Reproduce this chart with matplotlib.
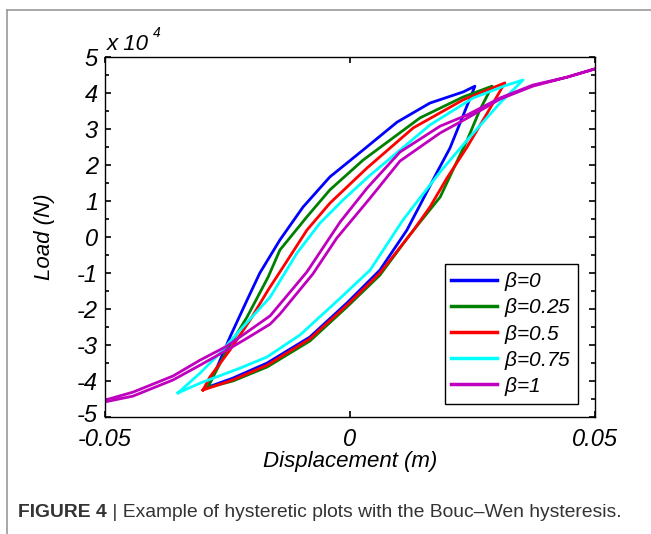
import matplotlib
matplotlib.use('Agg')
import matplotlib.pyplot as plt
from matplotlib.lines import Line2D
from matplotlib.ticker import MultipleLocator
from matplotlib.transforms import ScaledTranslation

# Displacement (m) and load (x 10^4 N).
# Each loop: upper branch left->right, then lower branch right->left.
disp_b0 = [-0.0290, -0.0271, -0.0245, -0.0210, -0.0184, -0.0143, -0.0096, -0.0041, 0.0027, 0.0096, 0.0163, 0.0231, 0.0255,
           0.0204, 0.0180, 0.0143, 0.0116, 0.0061, -0.0006, -0.0082, -0.0169, -0.0239, -0.0290]
load_b0 = [-4.17, -3.61, -2.78, -1.75, -1.00, -0.08, 0.83, 1.67, 2.42, 3.19, 3.72, 4.03, 4.19,
           2.47, 1.86, 0.89, 0.19, -0.92, -1.83, -2.78, -3.50, -3.92, -4.17]

disp_b025 = [-0.0292, -0.0286, -0.0251, -0.0210, -0.0167, -0.0143, -0.0088, -0.0041, 0.0027, 0.0143, 0.0231, 0.0290,
             0.0265, 0.0239, 0.0210, 0.0184, 0.0122, 0.0061, -0.0006, -0.0082, -0.0169, -0.0239, -0.0292]
load_b025 = [-4.19, -4.06, -3.14, -2.22, -1.11, -0.36, 0.56, 1.31, 2.14, 3.31, 3.89, 4.19,
             3.53, 2.69, 1.86, 1.11, 0.06, -1.06, -1.94, -2.89, -3.61, -4.00, -4.19]

disp_b05 = [-0.0300, -0.0286, -0.0245, -0.0204, -0.0167, -0.0143, -0.0088, -0.0041, 0.0035, 0.0129, 0.0231, 0.0316,
            0.0280, 0.0239, 0.0198, 0.0163, 0.0127, 0.0061, -0.0006, -0.0082, -0.0169, -0.0239, -0.0300]
load_b05 = [-4.25, -3.89, -3.14, -2.31, -1.47, -0.97, 0.19, 0.94, 1.92, 3.03, 3.81, 4.28,
            3.44, 2.50, 1.64, 0.83, 0.14, -1.00, -1.89, -2.83, -3.56, -3.97, -4.25]

disp_b075 = [-0.0351, -0.0306, -0.0265, -0.0224, -0.0163, -0.0108, -0.0061, -0.0014, 0.0037, 0.0163, 0.0251, 0.0320, 0.0353,
             0.0306, 0.0239, 0.0184, 0.0108, 0.0041, -0.0024, -0.0102, -0.0169, -0.0224, -0.0306, -0.0351]
load_b075 = [-4.33, -3.78, -3.22, -2.58, -1.67, -0.44, 0.39, 1.03, 1.67, 3.11, 3.86, 4.22, 4.36,
             3.72, 2.69, 1.81, 0.47, -0.92, -1.75, -2.72, -3.33, -3.64, -4.06, -4.33]

disp_b1 = [-0.0500, -0.0443, -0.0361, -0.0306, -0.0251, -0.0210, -0.0163, -0.0088, -0.0020, 0.0035, 0.0102, 0.0184,
           0.0239, 0.0306, 0.0373, 0.0443, 0.0500,
           0.0443, 0.0373, 0.0306, 0.0239, 0.0184, 0.0102, 0.0041, -0.0027, -0.0076, -0.0143, -0.0163, -0.0210,
           -0.0251, -0.0306, -0.0361, -0.0443, -0.0500]
load_b1 = [-4.53, -4.31, -3.86, -3.42, -3.03, -2.64, -2.19, -0.97, 0.42, 1.36, 2.36, 3.08,
           3.39, 3.86, 4.22, 4.44, 4.67,
           4.44, 4.19, 3.83, 3.30, 2.89, 2.11, 1.08, -0.03, -1.03, -2.14, -2.42, -2.81,
           -3.14, -3.56, -3.97, -4.42, -4.58]

labels = [r'$\beta$=0', r'$\beta$=0.25', r'$\beta$=0.5', r'$\beta$=0.75', r'$\beta$=1']
colors = ['#0000ff', '#008000', '#ff0000', '#00ffff', '#bf00bf']
xticks = [-0.05, 0, 0.05]
xticklabels = ['-0.05', '0', '0.05']
yticks = [-5, -4, -3, -2, -1, 0, 1, 2, 3, 4, 5]

plt.rcParams['font.family'] = ['Liberation Sans', 'DejaVu Sans']
plt.rcParams['mathtext.fontset'] = 'custom'
plt.rcParams['mathtext.it'] = 'Liberation Sans:italic'
plt.rcParams['mathtext.rm'] = 'Liberation Sans:italic'

fig = plt.figure(figsize=(6.51, 5.34), dpi=100)
ax = fig.add_axes([105/651, 117/534, 490/651, 360/534])

series = [(disp_b0, load_b0), (disp_b025, load_b025), (disp_b05, load_b05),
          (disp_b075, load_b075), (disp_b1, load_b1)]
for (d, f), c, lab in zip(series, colors, labels):
    ax.plot(d, f, color=c, lw=2.0, label=lab, solid_joinstyle='round')

ax.set_xlim(-0.05, 0.05)
ax.set_ylim(-5, 5)
ax.set_xticks(xticks)
ax.set_xticklabels(xticklabels, fontsize=17, style='italic')
ax.set_yticks(yticks)
ax.set_yticklabels([str(v) for v in yticks], fontsize=17, style='italic')
ax.yaxis.set_minor_locator(MultipleLocator(0.5))
ax.tick_params(which='both', direction='in', top=True, right=True, width=1.2, colors='black')
ax.tick_params(which='major', length=4)
ax.tick_params(axis='y', which='major', pad=5)
ax.tick_params(axis='x', which='major', pad=8)
ax.tick_params(which='minor', length=3)
for s in ax.spines.values():
    s.set_linewidth(1.0)

# the bottom y label sits a little high in the original, clear of -0.05
lbl = ax.get_yticklabels()[0]
lbl.set_transform(lbl.get_transform() + ScaledTranslation(0, 3/72, fig.dpi_scale_trans))

ax.set_xlabel('Displacement (m)', fontsize=16, style='italic', labelpad=0)
ax.set_ylabel('Load (N)', fontsize=16, style='italic', labelpad=16)

# MATLAB style exponent above the axis
ax.text(0.004, 1.02, 'x 10', transform=ax.transAxes, fontsize=16, style='italic', va='baseline', ha='left')
ax.text(0.098, 1.056, '4', transform=ax.transAxes, fontsize=10, style='italic', va='baseline', ha='left')

leg = ax.legend(loc='lower right', bbox_to_anchor=(0.965, 0.036), borderaxespad=0, fontsize=15,
                handlelength=2.2, handletextpad=0.35, labelspacing=0.15, borderpad=0.3, fancybox=False,
                framealpha=1, edgecolor='black')
leg.get_frame().set_linewidth(1.0)
for t in leg.get_texts():
    t.set_style('italic')
for h in leg.get_lines():
    h.set_linewidth(2.5)

# page frame and caption
fig.add_artist(Line2D([7/651, 1], [1 - 10/534, 1 - 10/534], transform=fig.transFigure, color='#999999', lw=1.2))
fig.add_artist(Line2D([7/651, 7/651], [0, 1 - 10/534], transform=fig.transFigure, color='#999999', lw=1.2))
t1 = fig.text(18/651, 13/534, 'FIGURE 4', fontsize=13.9, fontweight='bold', color='#333333', va='bottom')
ax.annotate(' | Example of hysteretic plots with the Bouc\u2013Wen hysteresis.', xy=(1, 0), xycoords=t1,
            va='bottom', ha='left', fontsize=13.9, color='#333333', annotation_clip=False)

fig.savefig('out.png', dpi=100)
